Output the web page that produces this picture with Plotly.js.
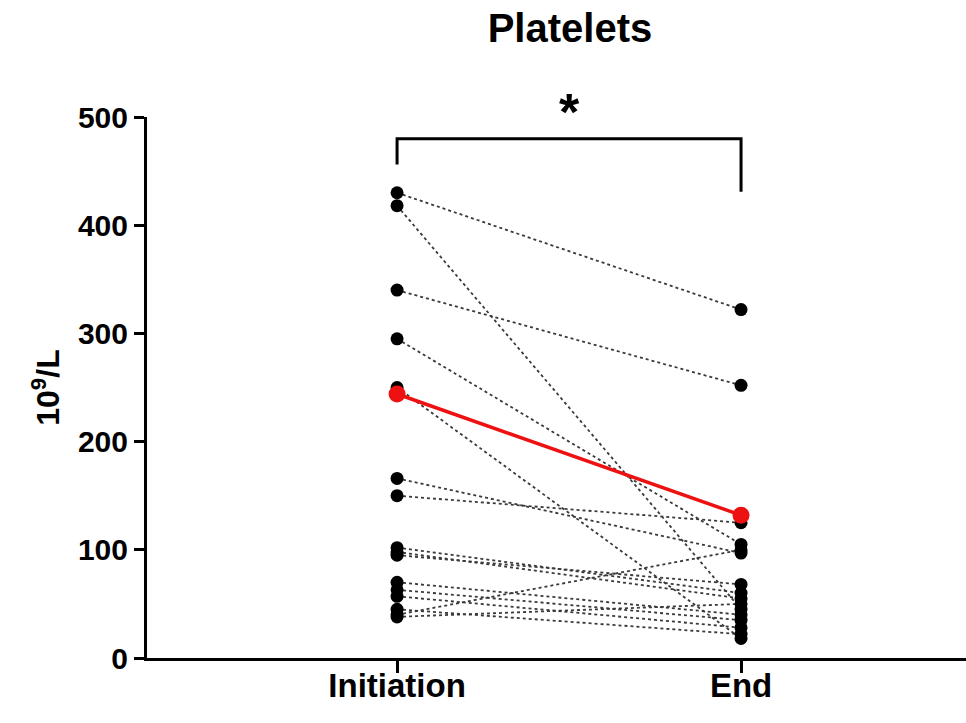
<!DOCTYPE html>
<html>
<head>
<meta charset="utf-8">
<script src="https://cdn.plot.ly/plotly-3.0.1.min.js"></script>
<style>
  html, body { margin: 0; padding: 0; background: #ffffff; }
  #chart { width: 966px; height: 723px; }
</style>
</head>
<body>
<div id="chart"></div>
<script>
// Categories
var categories = ["Initiation", "End"];
// Paired patient values (10^9/L)
var initiationValues = [430, 418, 340, 295, 250, 166, 150, 102, 98, 95, 70, 63, 57, 45, 40, 38];
var endValues        = [322, 45, 252, 105, 18, 97, 125, 60, 55, 68, 40, 35, 28, 22, 100, 50];
// Summary (red) line
var summaryValues = [244, 132];
// Axis ticks
var yTickValues = [0, 100, 200, 300, 400, 500];
// Significance bracket (y levels) and label
var bracketTop = 480, bracketLeftEnd = 456, bracketRightEnd = 431;
var significanceLabel = "*";

var font = "Liberation Sans, Arial, Helvetica, sans-serif";
var traces = [];
var xPos = [0, 1];

for (var i = 0; i < initiationValues.length; i++) {
  traces.push({
    x: xPos,
    y: [initiationValues[i], endValues[i]],
    type: "scatter",
    mode: "lines",
    line: { color: "#3a3a3a", width: 1.8, dash: "dot" },
    hoverinfo: "skip",
    showlegend: false
  });
}

var allX = [], allY = [];
for (var j = 0; j < initiationValues.length; j++) {
  allX.push(0); allY.push(initiationValues[j]);
  allX.push(1); allY.push(endValues[j]);
}
traces.push({
  x: allX, y: allY,
  type: "scatter", mode: "markers",
  marker: { color: "#000000", size: 13 },
  cliponaxis: false,
  showlegend: false
});

traces.push({
  x: xPos, y: summaryValues,
  type: "scatter", mode: "lines+markers",
  line: { color: "#ee1111", width: 3.5 },
  marker: { color: "#ee1111", size: 17 },
  cliponaxis: false,
  showlegend: false
});

var layout = {
  width: 966, height: 723,
  paper_bgcolor: "#ffffff", plot_bgcolor: "#ffffff",
  margin: { l: 147, r: 0, t: 117, b: 65, pad: 0 },
  title: {
    text: "<b>Platelets</b>",
    font: { family: font, size: 40, color: "#000000" },
    x: 0.59, xanchor: "center", y: 0.981, yanchor: "top"
  },
  xaxis: {
    range: [-0.727, 1.654],
    tickvals: xPos, ticktext: categories.map(function(c){ return "<b>" + c + "</b>"; }),
    tickfont: { family: font, size: 33, color: "#000000" },
    ticks: "outside", ticklen: 12, tickwidth: 3, tickcolor: "#000000",
    ticklabelstandoff: -16,
    showline: true, linewidth: 3, linecolor: "#000000",
    showgrid: false, zeroline: false, automargin: false, fixedrange: true
  },
  yaxis: {
    range: [0, 500],
    tickvals: yTickValues,
    ticktext: yTickValues.map(function(v){ return "<b>" + v + "</b>"; }),
    tickfont: { family: font, size: 30, color: "#000000" },
    ticks: "outside", ticklen: 10, tickwidth: 3, tickcolor: "#000000",
    showline: true, linewidth: 3, linecolor: "#000000",
    showgrid: false, zeroline: false, automargin: false, fixedrange: true,
    title: {
      text: "<b>10<sup>9</sup>/L</b>",
      font: { family: font, size: 32, color: "#000000" },
      standoff: 9
    }
  },
  shapes: [{
    type: "path", xref: "x", yref: "y",
    path: "M 0 " + bracketLeftEnd + " L 0 " + bracketTop + " L 1 " + bracketTop + " L 1 " + bracketRightEnd,
    line: { color: "#000000", width: 3 }
  }],
  annotations: [{
    x: 0.5, y: 1.009, xref: "x", yref: "paper",
    text: "<b>" + significanceLabel + "</b>",
    showarrow: false,
    font: { family: font, size: 52, color: "#000000" },
    xanchor: "center", yanchor: "middle"
  }]
};

Plotly.newPlot("chart", traces, layout, { displayModeBar: false, staticPlot: true });
</script>
</body>
</html>
